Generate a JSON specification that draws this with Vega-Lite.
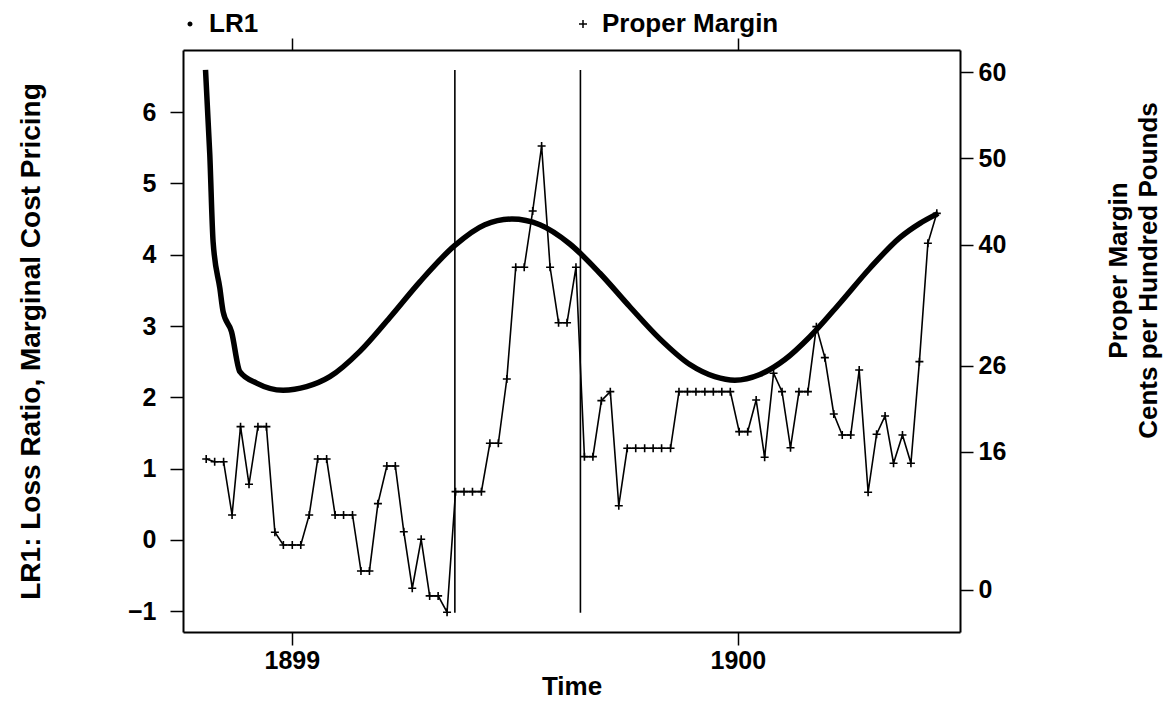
{
  "$schema": "https://vega.github.io/schema/vega-lite/v6.json",
  "width": 777,
  "height": 582,
  "autosize": {"type": "none"},
  "padding": {"left": 183, "top": 50, "right": 214, "bottom": 69},
  "background": "white",
  "config": {
    "view": {"stroke": null},
    "font": "Liberation Sans",
    "axis": {
      "grid": false,
      "domainColor": "black",
      "domainWidth": 2,
      "tickColor": "black",
      "tickWidth": 1.5,
      "labelColor": "black",
      "labelFont": "Liberation Sans",
      "labelFontWeight": "bold",
      "labelFontSize": 25,
      "titleColor": "black",
      "titleFont": "Liberation Sans",
      "titleFontWeight": "bold",
      "titleFontSize": 26
    }
  },
  "datasets": {
    "lr1": [
      {"t": 1898.8065, "v": 6.59}, {"t": 1898.8161, "v": 5.40}, {"t": 1898.8235, "v": 4.18},
      {"t": 1898.8386, "v": 3.53}, {"t": 1898.846, "v": 3.20}, {"t": 1898.8648, "v": 2.92},
      {"t": 1898.8834, "v": 2.36}, {"t": 1898.9209, "v": 2.20}, {"t": 1898.9805, "v": 2.10},
      {"t": 1899.033, "v": 2.15}, {"t": 1899.0852, "v": 2.29}, {"t": 1899.1525, "v": 2.645},
      {"t": 1899.2197, "v": 3.12}, {"t": 1899.287, "v": 3.62}, {"t": 1899.3655, "v": 4.13},
      {"t": 1899.4327, "v": 4.42}, {"t": 1899.4933, "v": 4.50}, {"t": 1899.5561, "v": 4.42},
      {"t": 1899.6233, "v": 4.15}, {"t": 1899.6906, "v": 3.74}, {"t": 1899.7578, "v": 3.27},
      {"t": 1899.8251, "v": 2.82}, {"t": 1899.8924, "v": 2.46}, {"t": 1899.9484, "v": 2.29},
      {"t": 1899.9933, "v": 2.24}, {"t": 1900.0493, "v": 2.32}, {"t": 1900.1054, "v": 2.53},
      {"t": 1900.1614, "v": 2.85}, {"t": 1900.2287, "v": 3.32}, {"t": 1900.296, "v": 3.81},
      {"t": 1900.3632, "v": 4.24}, {"t": 1900.4081, "v": 4.44}, {"t": 1900.4491, "v": 4.58}
    ],
    "margin": [
      {"t": 1898.808, "m": 15.17, "series": "Proper Margin"}, {"t": 1898.827, "m": 14.86, "series": "Proper Margin"},
      {"t": 1898.847, "m": 14.86, "series": "Proper Margin"}, {"t": 1898.866, "m": 8.69, "series": "Proper Margin"},
      {"t": 1898.885, "m": 18.92, "series": "Proper Margin"}, {"t": 1898.904, "m": 12.24, "series": "Proper Margin"},
      {"t": 1898.924, "m": 18.92, "series": "Proper Margin"}, {"t": 1898.943, "m": 18.92, "series": "Proper Margin"},
      {"t": 1898.962, "m": 6.68, "series": "Proper Margin"}, {"t": 1898.981, "m": 5.21, "series": "Proper Margin"},
      {"t": 1899.001, "m": 5.21, "series": "Proper Margin"}, {"t": 1899.020, "m": 5.21, "series": "Proper Margin"},
      {"t": 1899.039, "m": 8.69, "series": "Proper Margin"}, {"t": 1899.058, "m": 15.17, "series": "Proper Margin"},
      {"t": 1899.078, "m": 15.17, "series": "Proper Margin"}, {"t": 1899.097, "m": 8.69, "series": "Proper Margin"},
      {"t": 1899.116, "m": 8.69, "series": "Proper Margin"}, {"t": 1899.136, "m": 8.69, "series": "Proper Margin"},
      {"t": 1899.155, "m": 2.20, "series": "Proper Margin"}, {"t": 1899.174, "m": 2.20, "series": "Proper Margin"},
      {"t": 1899.193, "m": 10.00, "series": "Proper Margin"}, {"t": 1899.213, "m": 14.36, "series": "Proper Margin"},
      {"t": 1899.232, "m": 14.36, "series": "Proper Margin"}, {"t": 1899.251, "m": 6.75, "series": "Proper Margin"},
      {"t": 1899.270, "m": 0.20, "series": "Proper Margin"}, {"t": 1899.290, "m": 5.87, "series": "Proper Margin"},
      {"t": 1899.309, "m": -0.69, "series": "Proper Margin"}, {"t": 1899.328, "m": -0.69, "series": "Proper Margin"},
      {"t": 1899.348, "m": -2.58, "series": "Proper Margin"}, {"t": 1899.367, "m": 11.39, "series": "Proper Margin"},
      {"t": 1899.386, "m": 11.39, "series": "Proper Margin"}, {"t": 1899.405, "m": 11.39, "series": "Proper Margin"},
      {"t": 1899.425, "m": 11.39, "series": "Proper Margin"}, {"t": 1899.444, "m": 16.99, "series": "Proper Margin"},
      {"t": 1899.463, "m": 16.99, "series": "Proper Margin"}, {"t": 1899.482, "m": 24.44, "series": "Proper Margin"},
      {"t": 1899.502, "m": 37.38, "series": "Proper Margin"}, {"t": 1899.521, "m": 37.38, "series": "Proper Margin"},
      {"t": 1899.540, "m": 43.90, "series": "Proper Margin"}, {"t": 1899.560, "m": 51.43, "series": "Proper Margin"},
      {"t": 1899.579, "m": 37.38, "series": "Proper Margin"}, {"t": 1899.598, "m": 30.96, "series": "Proper Margin"},
      {"t": 1899.617, "m": 30.96, "series": "Proper Margin"}, {"t": 1899.637, "m": 37.38, "series": "Proper Margin"},
      {"t": 1899.656, "m": 15.44, "series": "Proper Margin"}, {"t": 1899.675, "m": 15.44, "series": "Proper Margin"},
      {"t": 1899.694, "m": 21.93, "series": "Proper Margin"}, {"t": 1899.714, "m": 22.97, "series": "Proper Margin"},
      {"t": 1899.733, "m": 9.76, "series": "Proper Margin"}, {"t": 1899.752, "m": 16.41, "series": "Proper Margin"},
      {"t": 1899.771, "m": 16.41, "series": "Proper Margin"}, {"t": 1899.791, "m": 16.41, "series": "Proper Margin"},
      {"t": 1899.810, "m": 16.41, "series": "Proper Margin"}, {"t": 1899.829, "m": 16.41, "series": "Proper Margin"},
      {"t": 1899.849, "m": 16.41, "series": "Proper Margin"}, {"t": 1899.868, "m": 22.97, "series": "Proper Margin"},
      {"t": 1899.887, "m": 22.97, "series": "Proper Margin"}, {"t": 1899.906, "m": 22.97, "series": "Proper Margin"},
      {"t": 1899.926, "m": 22.97, "series": "Proper Margin"}, {"t": 1899.945, "m": 22.97, "series": "Proper Margin"},
      {"t": 1899.964, "m": 22.97, "series": "Proper Margin"}, {"t": 1899.983, "m": 22.97, "series": "Proper Margin"},
      {"t": 1900.003, "m": 18.34, "series": "Proper Margin"}, {"t": 1900.022, "m": 18.34, "series": "Proper Margin"},
      {"t": 1900.041, "m": 22.01, "series": "Proper Margin"}, {"t": 1900.060, "m": 15.37, "series": "Proper Margin"},
      {"t": 1900.080, "m": 25.10, "series": "Proper Margin"}, {"t": 1900.099, "m": 22.97, "series": "Proper Margin"},
      {"t": 1900.118, "m": 16.48, "series": "Proper Margin"}, {"t": 1900.137, "m": 22.97, "series": "Proper Margin"},
      {"t": 1900.157, "m": 22.97, "series": "Proper Margin"}, {"t": 1900.176, "m": 30.50, "series": "Proper Margin"},
      {"t": 1900.195, "m": 26.91, "series": "Proper Margin"}, {"t": 1900.215, "m": 20.39, "series": "Proper Margin"},
      {"t": 1900.234, "m": 17.95, "series": "Proper Margin"}, {"t": 1900.253, "m": 17.95, "series": "Proper Margin"},
      {"t": 1900.272, "m": 25.48, "series": "Proper Margin"}, {"t": 1900.292, "m": 11.32, "series": "Proper Margin"},
      {"t": 1900.311, "m": 18.04, "series": "Proper Margin"}, {"t": 1900.330, "m": 20.16, "series": "Proper Margin"},
      {"t": 1900.349, "m": 14.68, "series": "Proper Margin"}, {"t": 1900.369, "m": 17.95, "series": "Proper Margin"},
      {"t": 1900.388, "m": 14.68, "series": "Proper Margin"}, {"t": 1900.407, "m": 26.45, "series": "Proper Margin"},
      {"t": 1900.426, "m": 40.16, "series": "Proper Margin"}, {"t": 1900.446, "m": 43.63, "series": "Proper Margin"}
    ],
    "marks": [
      {"t": 1899.3655, "lo": -1.02, "hi": 6.59},
      {"t": 1899.647, "lo": -1.02, "hi": 6.59}
    ]
  },
  "resolve": {"scale": {"y": "independent"}, "axis": {"x": "independent", "y": "independent"}},
  "layer": [
    {
      "data": {"name": "lr1"},
      "mark": {"type": "line", "color": "black", "strokeWidth": 5.5, "interpolate": "monotone"},
      "encoding": {
        "x": {"field": "t", "type": "quantitative",
              "scale": {"domain": [1898.756, 1900.498], "nice": false, "zero": false},
              "axis": {"orient": "bottom", "values": [1899, 1900], "format": "d", "title": "Time",
                       "tickSize": 13, "labelPadding": 3, "titlePadding": 0, "labelFlush": false}},
        "y": {"field": "v", "type": "quantitative",
              "scale": {"domain": [-1.29, 6.87], "nice": false, "zero": false},
              "axis": {"orient": "left", "values": [-1, 0, 1, 2, 3, 4, 5, 6],
                       "title": "LR1: Loss Ratio, Marginal Cost Pricing", "titleFontSize": 28,
                       "tickSize": 13, "labelPadding": 14, "titlePadding": 82}}
      }
    },
    {
      "data": {"name": "marks"},
      "mark": {"type": "rule", "color": "black", "strokeWidth": 1.6},
      "encoding": {
        "x": {"field": "t", "type": "quantitative", "axis": null},
        "y": {"field": "lo", "type": "quantitative",
              "scale": {"domain": [-1.29, 6.87], "nice": false, "zero": false}, "axis": null},
        "y2": {"field": "hi"}
      }
    },
    {
      "data": {"name": "margin"},
      "mark": {"type": "line", "color": "black", "strokeWidth": 1.6},
      "encoding": {
        "x": {"field": "t", "type": "quantitative",
              "axis": {"orient": "top", "values": [1899, 1900], "labels": false, "title": null, "tickSize": 12}},
        "y": {"field": "m", "type": "quantitative",
              "scale": {"domain": [-4.87, 62.55], "nice": false, "zero": false},
              "axis": {"orient": "right", "values": [0, 16, 26, 40, 50, 60],
                       "title": ["Proper Margin", "Cents per Hundred Pounds"],
                       "titleAngle": 270, "titleBaseline": "top", "titleLineHeight": 30,
                       "titleY": 220,
                       "tickSize": 13, "labelPadding": 5, "titlePadding": 70}}
      }
    },
    {
      "data": {"name": "margin"},
      "mark": {"type": "point", "fill": "black", "stroke": "black", "strokeWidth": 1.6, "opacity": 1},
      "encoding": {
        "x": {"field": "t", "type": "quantitative", "axis": null},
        "y": {"field": "m", "type": "quantitative",
              "scale": {"domain": [-4.87, 62.55], "nice": false, "zero": false}, "axis": null},
        "shape": {"field": "series", "type": "nominal",
                  "scale": {"domain": ["LR1", "Proper Margin"], "range": ["circle", "M-1,0L1,0M0,-1L0,1"]},
                  "legend": {"orient": "none", "legendX": -6, "legendY": -39, "direction": "horizontal",
                             "title": null, "padding": 0, "labelFont": "Liberation Sans",
                             "labelFontWeight": "bold", "labelFontSize": 26, "labelColor": "black",
                             "labelOffset": 6, "columnPadding": 311, "symbolFillColor": "black",
                             "symbolStrokeColor": "black", "symbolStrokeWidth": 1.5, "labelLimit": 400}},
        "size": {"field": "series", "type": "nominal",
                 "scale": {"domain": ["LR1", "Proper Margin"], "range": [12, 64]}}
      }
    }
  ]
}
